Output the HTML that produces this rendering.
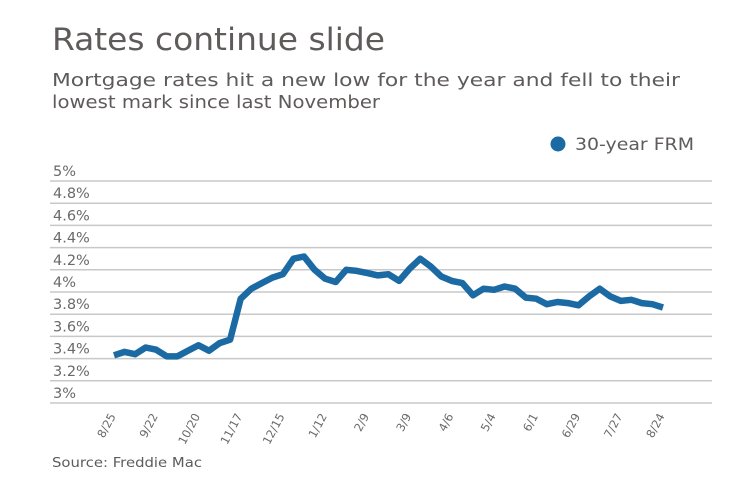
<!DOCTYPE html>
<html><head><meta charset="utf-8"><style>html,body{margin:0;padding:0;background:#fff}svg{display:block}</style></head>
<body>
<svg width="740" height="482" viewBox="0 0 740 482" xmlns="http://www.w3.org/2000/svg" font-family="'DejaVu Sans','Liberation Sans',sans-serif">
<text x="52" y="50" font-size="31" fill="#5f5b5b" textLength="333" lengthAdjust="spacingAndGlyphs">Rates continue slide</text>
<text x="52" y="86" font-size="18" fill="#5f5b5b" textLength="628" lengthAdjust="spacingAndGlyphs">Mortgage rates hit a new low for the year and fell to their</text>
<text x="52" y="108" font-size="18" fill="#5f5b5b" textLength="328" lengthAdjust="spacingAndGlyphs">lowest mark since last November</text>
<circle cx="558" cy="144" r="7.5" fill="#1c6aa3"/>
<text x="575" y="150" font-size="17" fill="#5f5b5b" textLength="119" lengthAdjust="spacingAndGlyphs">30-year FRM</text>
<g stroke="#c8c8c8" stroke-width="1.5">
<line x1="50" x2="712" y1="403" y2="403"/>
<line x1="50" x2="712" y1="380.8" y2="380.8"/>
<line x1="50" x2="712" y1="358.6" y2="358.6"/>
<line x1="50" x2="712" y1="336.4" y2="336.4"/>
<line x1="50" x2="712" y1="314.2" y2="314.2"/>
<line x1="50" x2="712" y1="292" y2="292"/>
<line x1="50" x2="712" y1="269.8" y2="269.8"/>
<line x1="50" x2="712" y1="247.6" y2="247.6"/>
<line x1="50" x2="712" y1="225.4" y2="225.4"/>
<line x1="50" x2="712" y1="203.2" y2="203.2"/>
<line x1="50" x2="712" y1="181" y2="181"/>
</g>
<g font-size="14.5" fill="#6a6a6a">
<text x="53" y="398">3%</text>
<text x="53" y="375.8">3.2%</text>
<text x="53" y="353.6">3.4%</text>
<text x="53" y="331.4">3.6%</text>
<text x="53" y="309.2">3.8%</text>
<text x="53" y="287">4%</text>
<text x="53" y="264.8">4.2%</text>
<text x="53" y="242.6">4.4%</text>
<text x="53" y="220.4">4.6%</text>
<text x="53" y="198.2">4.8%</text>
<text x="53" y="176">5%</text>
</g>
<g font-size="11.5" fill="#6a6a6a" text-anchor="end">
<text transform="translate(116,416) rotate(-62)">8/25</text>
<text transform="translate(158.2,416) rotate(-62)">9/22</text>
<text transform="translate(200.5,416) rotate(-62)">10/20</text>
<text transform="translate(242.7,416) rotate(-62)">11/17</text>
<text transform="translate(284.9,416) rotate(-62)">12/15</text>
<text transform="translate(327.2,416) rotate(-62)">1/12</text>
<text transform="translate(369.4,416) rotate(-62)">2/9</text>
<text transform="translate(411.6,416) rotate(-62)">3/9</text>
<text transform="translate(453.8,416) rotate(-62)">4/6</text>
<text transform="translate(496.1,416) rotate(-62)">5/4</text>
<text transform="translate(538.3,416) rotate(-62)">6/1</text>
<text transform="translate(580.5,416) rotate(-62)">6/29</text>
<text transform="translate(622.8,416) rotate(-62)">7/27</text>
<text transform="translate(665,416) rotate(-62)">8/24</text>
</g>
<polyline fill="none" stroke="#1c6aa3" stroke-width="6.5" stroke-linejoin="round" points="114,355.3 124.6,351.9 135.1,354.2 145.7,347.5 156.2,349.7 166.8,356.4 177.3,356.4 187.9,350.8 198.5,345.3 209,350.8 219.6,343.1 230.1,339.7 240.7,298.7 251.3,288.7 261.8,283.1 272.4,277.6 282.9,274.2 293.5,258.7 304,256.5 314.6,269.8 325.2,278.7 335.7,282 346.3,269.8 356.8,270.9 367.4,273.1 377.9,275.4 388.5,274.2 399.1,280.9 409.6,268.7 420.2,258.7 430.7,266.5 441.3,276.5 451.8,280.9 462.4,283.1 473,295.3 483.5,288.7 494.1,289.8 504.6,286.5 515.2,288.7 525.8,297.6 536.3,298.7 546.9,304.2 557.4,302 568,303.1 578.5,305.3 589.1,296.4 599.7,288.7 610.2,296.4 620.8,300.9 631.3,299.8 641.9,303.1 652.4,304.2 663,307.5"/>
<text x="52" y="467" font-size="13.5" fill="#5f5b5b" textLength="150" lengthAdjust="spacingAndGlyphs">Source: Freddie Mac</text>
</svg>
</body></html>
